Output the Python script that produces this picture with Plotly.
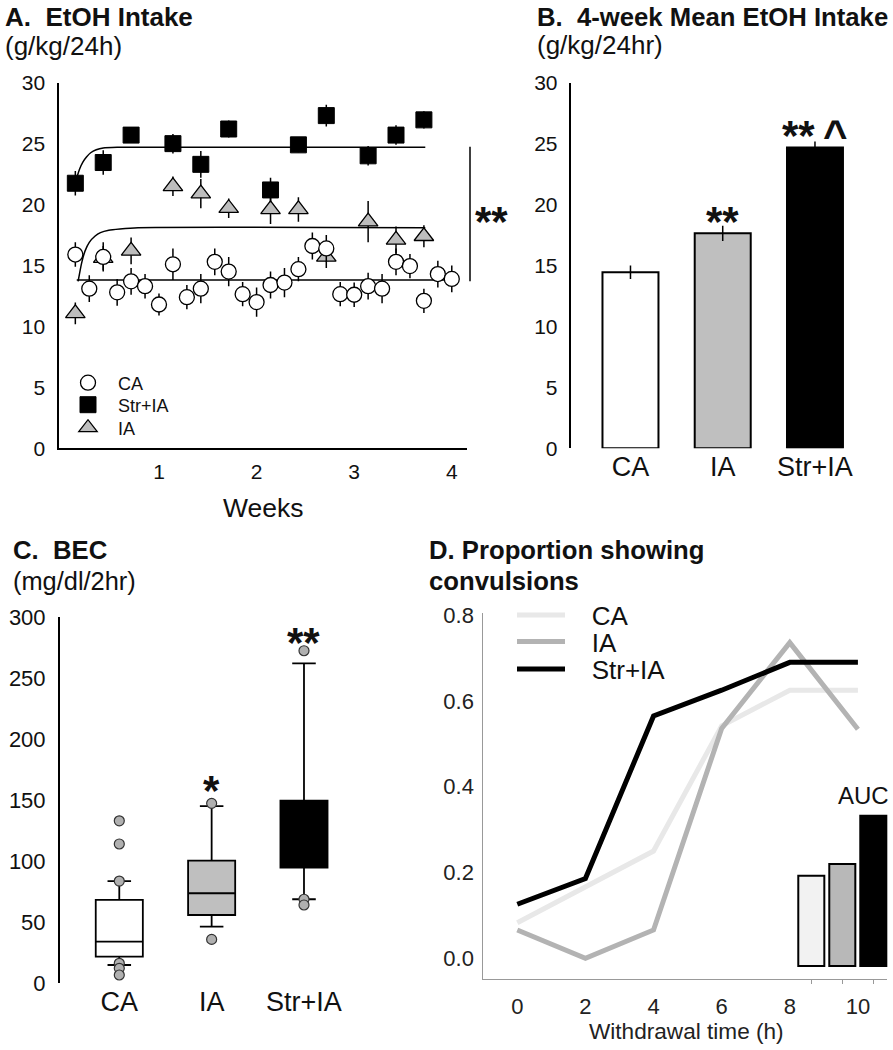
import plotly.graph_objects as go

W, H = 893, 1050
def px(x): return x / W
def py(y): return 1 - y / H

FONT = "Liberation Sans, Arial, Helvetica, sans-serif"

# ---------------- Panel A: daily EtOH intake (g/kg/24h) ----------------
ca_days = list(range(1, 29))
ca_intake = [15.9, 13.1, 15.7, 12.8, 13.7, 13.3, 11.8, 15.1, 12.4, 13.1, 15.3, 14.5, 12.65, 12.0,
             13.4, 13.6, 14.7, 16.6, 16.4, 12.65, 12.6, 13.3, 13.1, 15.3, 14.95, 12.1, 14.3, 13.9]
ca_err = [1.0, 1.1, 1.2, 1.1, 1.1, 1.0, 0.9, 1.3, 1.0, 1.2, 1.1, 1.2, 1.0, 1.2,
          1.1, 1.2, 1.0, 1.1, 1.1, 1.0, 1.0, 1.1, 1.2, 1.1, 1.0, 1.0, 1.1, 1.1]
ia_days = [1, 3, 5, 8, 10, 12, 15, 17, 19, 22, 24, 26]
str_intake = [21.75, 23.45, 25.7, 25.0, 23.3, 26.2, 21.2, 24.9, 27.3, 24.0, 25.7, 26.95]
str_err = [1.0, 1.0, 0.6, 0.8, 1.1, 0.7, 1.0, 0.6, 0.9, 0.8, 0.8, 0.7]
ia_intake = [11.07, 15.6, 16.2, 21.5, 20.9, 19.7, 19.6, 19.6, 15.7, 18.6, 17.1, 17.4]
ia_err = [0.9, 1.0, 1.1, 0.8, 1.2, 0.8, 1.2, 1.0, 0.9, 1.7, 1.1, 0.9]

# fitted curves
fit_str_days = [1.05, 1.3, 1.55, 1.8, 2.1, 2.5, 3.0, 4.0, 26.1]
fit_str_vals = [22.0, 22.9, 23.5, 23.9, 24.25, 24.5, 24.65, 24.7, 24.7]
fit_ia_days = [1.2, 1.45, 1.7, 2.0, 2.4, 2.8, 3.4, 4.2, 5.5, 26.1]
fit_ia_vals = [13.7, 15.2, 16.2, 16.9, 17.4, 17.7, 17.9, 18.0, 18.1, 18.1]
fit_ca_days = [1.1, 28.0]
fit_ca_vals = [13.8, 13.8]
week_ticks = [7, 14, 21, 28]
week_labels = ["1", "2", "3", "4"]

# ---------------- Panel B: 4-week mean ----------------
groups = ["CA", "IA", "Str+IA"]
mean_intake = [14.44, 17.64, 24.68]
mean_err = [0.55, 0.62, 0.5]
group_fill = ["white", "#bfbfbf", "black"]

# ---------------- Panel C: BEC box plots ----------------
bec_q1 = [21.8, 56.0, 94.8]
bec_median = [34.1, 73.8, 120.0]
bec_q3 = [68.3, 100.5, 149.7]
bec_low = [15.0, 46.4, 68.9]
bec_high = [83.8, 145.3, 262.3]
out_group = ["CA", "CA", "CA", "CA", "CA", "CA", "IA", "IA", "Str+IA", "Str+IA", "Str+IA"]
out_value = [133.2, 114.2, 83.8, 16.4, 12.3, 6.8, 147.5, 36.0, 272.6, 68.9, 64.2]

# ---------------- Panel D: convulsions ----------------
wd_time = [0, 2, 4, 6, 8, 10]
conv_ca = [0.083, 0.167, 0.25, 0.542, 0.625, 0.625]
conv_ia = [0.066, 0.0, 0.066, 0.536, 0.736, 0.534]
conv_str = [0.126, 0.186, 0.565, 0.625, 0.69, 0.69]
auc = [2.7, 3.05, 4.5]
line_cols = ["#e8e8e8", "#b3b3b3", "black"]
auc_fill = ["#f2f2f2", "#b8b8b8", "black"]

NB = "\u00a0"
fig = go.Figure()

# ---- A ----
for dd, vv in [(fit_ca_days, fit_ca_vals), (fit_ia_days, fit_ia_vals), (fit_str_days, fit_str_vals)]:
    fig.add_trace(go.Scatter(x=dd, y=vv, mode="lines", line=dict(color="black", width=1.5, shape="spline", smoothing=0.6),
                             showlegend=False, hoverinfo="skip", xaxis="x", yaxis="y"))

def err(arr):
    return dict(type="data", array=arr, color="black", thickness=1.5, width=0)

fig.add_trace(go.Scatter(x=ia_days, y=ia_intake, mode="markers", name=NB * 2 + "IA", error_y=err(ia_err),
                         marker=dict(symbol="triangle-up", size=17, color="#bdbdbd", line=dict(color="black", width=1.3)),
                         xaxis="x", yaxis="y", legend="legend3"))
fig.add_trace(go.Scatter(x=ia_days, y=str_intake, mode="markers", name=NB * 2 + "Str+IA", error_y=err(str_err),
                         marker=dict(symbol="square", size=16, color="black", line=dict(color="black", width=1)),
                         xaxis="x", yaxis="y", legend="legend2"))
fig.add_trace(go.Scatter(x=ca_days, y=ca_intake, mode="markers", name=NB * 2 + "CA", error_y=err(ca_err),
                         marker=dict(symbol="circle", size=15, color="white", line=dict(color="black", width=1.3)),
                         xaxis="x", yaxis="y", legend="legend"))

# ---- B ----
fig.add_trace(go.Bar(x=groups, y=mean_intake, width=0.607, showlegend=False,
                     marker=dict(color=group_fill, line=dict(color="black", width=2)),
                     error_y=dict(type="data", array=mean_err, color="black", thickness=1.5, width=0),
                     xaxis="x2", yaxis="y2"))

# ---- C ----
for i, g in enumerate(groups):
    fig.add_trace(go.Box(x=[g], q1=[bec_q1[i]], median=[bec_median[i]], q3=[bec_q3[i]],
                         lowerfence=[bec_low[i]], upperfence=[bec_high[i]], width=0.51, whiskerwidth=0.5,
                         fillcolor=group_fill[i], line=dict(color="black", width=1.8), boxpoints=False,
                         showlegend=False, xaxis="x3", yaxis="y3"))
fig.add_trace(go.Scatter(x=out_group, y=out_value, mode="markers", showlegend=False,
                         marker=dict(symbol="circle", size=10, color="#b0b0b0", line=dict(color="#333", width=1.2)),
                         xaxis="x3", yaxis="y3"))

# ---- D ----
for name, vals, col, lg in [("CA", conv_ca, line_cols[0], "legend4"), ("IA", conv_ia, line_cols[1], "legend5"),
                            ("Str+IA", conv_str, line_cols[2], "legend6")]:
    fig.add_trace(go.Scatter(x=wd_time, y=vals, mode="lines", name=NB * 3 + name, line=dict(color=col, width=5),
                             xaxis="x4", yaxis="y4", legend=lg))
fig.add_trace(go.Bar(x=[0, 1, 2], y=auc, width=0.84, showlegend=False,
                     marker=dict(color=auc_fill, line=dict(color="black", width=2)),
                     xaxis="x5", yaxis="y5"))

tf = lambda s, c="#111": dict(family=FONT, size=s, color=c)
common = dict(showgrid=False, zeroline=False, ticks="", fixedrange=True)

fig.update_layout(
    width=W, height=H, margin=dict(l=0, r=0, t=0, b=0, autoexpand=False),
    paper_bgcolor="white", plot_bgcolor="rgba(0,0,0,0)",
    font=dict(family=FONT, color="#111"),
    xaxis=dict(domain=[px(59.3), px(466.7)], range=[-0.15, 29.07], anchor="y", tickvals=week_ticks,
               ticktext=week_labels, showline=True, linecolor="black", linewidth=2, tickfont=tf(21),
               ticklabelstandoff=3, **common),
    yaxis=dict(domain=[py(448.3), py(82.7)], range=[0, 30], anchor="x", dtick=5, showline=True,
               linecolor="black", linewidth=2, tickfont=tf(21), ticklabelstandoff=8, **common),
    xaxis2=dict(domain=[px(570.7), px(880)], range=[-0.648, 2.705], anchor="y2", type="category",
                showline=False, tickfont=tf(27), ticklabelstandoff=0, **common),
    yaxis2=dict(domain=[py(448.3), py(82.7)], range=[0, 30], anchor="x2", dtick=5, showline=True,
                linecolor="black", linewidth=2, tickfont=tf(21), ticklabelstandoff=7, **common),
    xaxis3=dict(domain=[px(60), px(380)], range=[-0.642, 2.823], anchor="y3", type="category",
                showline=False, tickfont=tf(27), ticklabelstandoff=0, **common),
    yaxis3=dict(domain=[py(983.3), py(617.3)], range=[0, 300], anchor="x3", dtick=50, showline=True,
                linecolor="black", linewidth=2, tickfont=tf(22), ticklabelstandoff=8, **common),
    xaxis4=dict(domain=[px(483.3), px(886.7)], range=[-0.998, 10.845], anchor="y4", tickvals=wd_time,
                showline=True, linecolor="#999", linewidth=1, tickfont=tf(22, "#222"), ticklabelstandoff=7, **common),
    yaxis4=dict(domain=[py(979.3), py(613)], range=[-0.049, 0.805], anchor="x4", tickvals=[0, 0.2, 0.4, 0.6, 0.8],
                tickformat=".1f", showline=True, linecolor="#999", linewidth=1, tickfont=tf(22, "#222"),
                ticklabelstandoff=4, **common),
    xaxis5=dict(domain=[px(795.8), px(888.8)], range=[-0.5, 2.5], anchor="y5", tickvals=[0, 1, 2],
                showticklabels=False, showline=False, showgrid=False, zeroline=False, ticks="outside",
                ticklen=4, tickcolor="#999", tickwidth=1),
    yaxis5=dict(domain=[py(979.3), py(790)], range=[-0.4, 5.27], anchor="x5", visible=False),
    bargap=0.2,
)

# legends (one per entry so each row sits where the reference has it)
def leg(x, y, size):
    return dict(x=px(x), y=py(y), xanchor="left", yanchor="middle", bgcolor="rgba(0,0,0,0)",
                font=dict(family=FONT, size=size, color="#111"), borderwidth=0)
fig.update_layout(
    legend=leg(68, 383, 18), legend2=leg(68, 405, 18), legend3=leg(68, 428, 18),
    legend4=dict(leg(512, 615, 26), itemwidth=48), legend5=dict(leg(512, 641.7, 26), itemwidth=48),
    legend6=dict(leg(512, 669, 26), itemwidth=48),
)

ann = []
def text(x, y, s, size, bold=False, xanchor="left", xref="paper", yref="paper", yshift=0, color="#111"):
    ann.append(dict(x=x, y=y, xref=xref, yref=yref, text=(f"<b>{s}</b>" if bold else s), showarrow=False,
                    xanchor=xanchor, yanchor="middle", yshift=yshift,
                    font=dict(family=FONT, size=size, color=color)))

text(px(3), py(17), "A.\u00a0 EtOH Intake", 26, bold=True)
text(px(3), py(46), "(g/kg/24h)", 26)
text(px(535), py(17), "B.\u00a0 4-week Mean EtOH Intake", 25.7, bold=True)
text(px(535), py(44.5), "(g/kg/24hr)", 26)
text(px(11), py(550), "C.\u00a0 BEC", 25.7, bold=True)
text(px(11), py(581), "(mg/dl/2hr)", 25.4)
text(px(427), py(550), "D. Proportion showing", 25.7, bold=True)
text(px(427), py(581), "convulsions", 25.7, bold=True)
text(px(263), py(508.3), "Weeks", 26.5, xanchor="center")
text(px(686.7), py(1031), "Withdrawal time (h)", 22.6, xanchor="center", color="#222")
text(px(863), py(795), "AUC", 24, xanchor="center")

# significance marks
AST = 42
text(px(491), 19.3, "**", AST, bold=True, xanchor="center", yref="y", yshift=-8)
text("IA", 19.3, "**", AST, bold=True, xanchor="center", xref="x2", yref="y2", yshift=-8)
text("Str+IA", 26.3, "**\u2009^", AST, bold=True, xanchor="center", xref="x2", yref="y2", yshift=-8)
text("IA", 164.2, "*", AST, bold=True, xanchor="center", xref="x3", yref="y3", yshift=-8)
text("Str+IA", 284.0, "**", AST, bold=True, xanchor="center", xref="x3", yref="y3", yshift=-6)

fig.update_layout(annotations=ann)

# bracket next to panel A
fig.add_shape(type="line", xref="paper", yref="y", x0=px(470), x1=px(470), y0=13.7, y1=24.75,
              line=dict(color="black", width=1.5))

fig.write_html("out.html", config={"displayModeBar": False},
               post_script="document.body.style.margin='0';document.body.style.overflow='hidden';")
